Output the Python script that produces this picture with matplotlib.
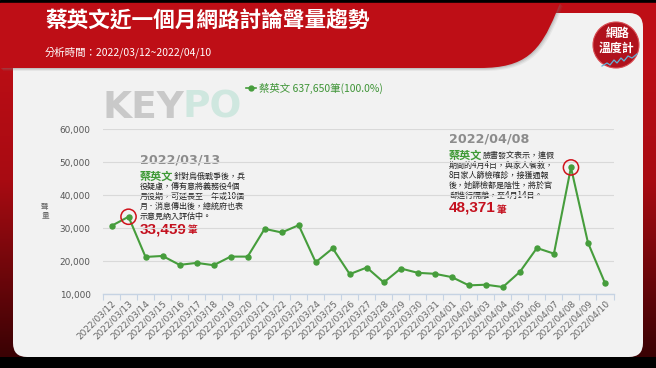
import numpy as np
import matplotlib
matplotlib.use("Agg")
import matplotlib.pyplot as plt
from matplotlib.patches import FancyBboxPatch, PathPatch, Circle, Rectangle
from matplotlib.path import Path
from matplotlib.colors import LinearSegmentedColormap

plt.rcParams['font.family'] = ['Noto Sans CJK TC', 'DejaVu Sans']

# ---------------- data ----------------
dates = ['2022/03/12', '2022/03/13', '2022/03/14', '2022/03/15', '2022/03/16',
         '2022/03/17', '2022/03/18', '2022/03/19', '2022/03/20', '2022/03/21',
         '2022/03/22', '2022/03/23', '2022/03/24', '2022/03/25', '2022/03/26',
         '2022/03/27', '2022/03/28', '2022/03/29', '2022/03/30', '2022/03/31',
         '2022/04/01', '2022/04/02', '2022/04/03', '2022/04/04', '2022/04/05',
         '2022/04/06', '2022/04/07', '2022/04/08', '2022/04/09', '2022/04/10']
values = [30700, 33459, 21300, 21600, 18900, 19500, 18800, 21400, 21400, 29800,
          28700, 30900, 19700, 23900, 16100, 18100, 13600, 17800, 16500, 16200,
          15200, 12700, 12900, 12200, 16800, 24000, 22300, 48371, 25600, 13400]
highlight_dates = ['2022/03/13', '2022/04/08']
y_ticks = [10000, 20000, 30000, 40000, 50000, 60000]
y_tick_labels = ['10,000', '20,000', '30,000', '40,000', '50,000', '60,000']

title = '蔡英文近一個月網路討論聲量趨勢'
subtitle = '分析時間：2022/03/12~2022/04/10'
legend_label = '蔡英文 637,650筆(100.0%)'
ann1_date = '2022/03/13'
ann1_lines = ['針對烏俄戰爭後，兵', '役疑慮，傳有意將義務役4個', '月役期，可延長至一年或10個',
              '月．消息傳出後，總統府也表', '示意見納入評估中。']
ann1_value = '33,459'
ann2_date = '2022/04/08'
ann2_lines = ['臉書發文表示，連假', '期間的4月4日，與家人餐敘，', '8日家人篩檢確診，接獲通報',
              '後，她篩檢都是陰性，將於官', '邸進行隔離，至4月14日。']
ann2_value = '48,371'

W, H = 656, 368
fig = plt.figure(figsize=(W / 100, H / 100), dpi=100)

# ---------------- background (pixel coords) ----------------
bg = fig.add_axes([0, 0, 1, 1])
bg.set_xlim(0, W)
bg.set_ylim(H, 0)
bg.axis('off')

RED = '#be0e16'
bg.add_patch(Rectangle((0, 0), W, H, color='#000000', zorder=0))
grad = np.linspace(0, 1, 256).reshape(-1, 1)
cm = LinearSegmentedColormap.from_list('rd', ['#c40f17', '#a80b12', '#3a0204'])
bg.imshow(grad, cmap=cm, extent=(0, W, 357, 3), aspect='auto', zorder=0.5)
bg.add_patch(Rectangle((0, 3), W, 66, color=RED, zorder=0.6))

panel = FancyBboxPatch((13, 13), 630, 344, boxstyle='round,pad=0,rounding_size=14',
                       facecolor='#f2f2f2', edgecolor='none', zorder=1)
bg.add_patch(panel)


def header_path(dx=0, dy=0):
    verts = [(0 + dx, 3 + dy), (560 + dx, 3 + dy), (556 + dx, 13 + dy),
             (540 + dx, 52 + dy), (525 + dx, 68 + dy), (480 + dx, 68 + dy),
             (0 + dx, 68 + dy), (0 + dx, 3 + dy)]
    codes = [Path.MOVETO, Path.LINETO, Path.LINETO, Path.CURVE4, Path.CURVE4,
             Path.CURVE4, Path.LINETO, Path.CLOSEPOLY]
    return Path(verts, codes)


# soft shadow near the curved edge
for k, a in [(3, 0.10), (2, 0.15), (1, 0.2)]:
    p = PathPatch(header_path(k, k), facecolor='#7a7a7a', edgecolor='none', alpha=a, zorder=1.1)
    p.set_clip_path(Rectangle((300, 0), 356, 80, transform=bg.transData))
    bg.add_patch(p)
bg.add_patch(PathPatch(header_path(), facecolor=RED, edgecolor='none', zorder=1.2))

bg.text(45, 21, title, color='white', fontsize=15.6, fontweight='bold', va='center', ha='left', zorder=3)
bg.text(45, 52, subtitle, color='white', fontsize=7.5, va='center', ha='left', zorder=3)

# logo circle
bg.add_patch(Circle((616, 45), 23, facecolor='#b0121d', edgecolor='#d84a50', lw=0.8, zorder=3))
bg.text(618, 33, '網路', color='white', fontsize=8.6, fontweight='bold', ha='center', va='center', zorder=4)
bg.text(616, 48, '溫度計', color='white', fontsize=8.6, fontweight='bold', ha='center', va='center', zorder=4)
wx = [602, 607, 610, 614, 617, 621, 624, 628, 632, 637]
wy = [66, 63, 65, 60, 63, 58, 61, 56, 58, 54]
bg.plot(wx, wy, color='#5fb3d9', lw=0.9, zorder=4)

# KEYPO watermark
bg.text(103, 108, 'KEY', color='#c9c9c9', fontsize=27, fontweight='bold', ha='left', va='center',
        family='DejaVu Sans', zorder=2)
bg.text(183, 108, 'PO', color='#cfe7df', fontsize=27, fontweight='bold', ha='left', va='center',
        family='DejaVu Sans', zorder=2)

bg.text(45, 211, '聲\n量', color='#666666', fontsize=5.5, ha='center', va='center', linespacing=1.0, zorder=3)

GREEN = '#469d3c'
bg.plot([246, 256], [88, 88], color=GREEN, lw=1.2, zorder=3)
bg.plot([251], [88], 'o', color=GREEN, ms=3.5, zorder=3)
bg.text(259, 88, legend_label, color='#3e9436', fontsize=7.5, ha='left', va='center', zorder=3)

# ---------------- chart ----------------
left, right, top, bottom = 103, 613.5, 129, 294.3
ax = fig.add_axes([left / W, 1 - bottom / H, (right - left) / W, (bottom - top) / H])
ax.set_facecolor('none')
x = np.arange(len(dates))
ax.set_xlim(-0.5, len(dates) - 0.5)
ax.set_ylim(y_ticks[0], y_ticks[-1])
ax.set_yticks(y_ticks)
ax.set_yticklabels(y_tick_labels, family='DejaVu Sans', fontsize=6.4, color='#555555')
ax.tick_params(axis='y', length=0, pad=9)
ax.grid(axis='y', color='#d9d9d9', lw=0.8)
ax.set_axisbelow(True)
for s in ['top', 'right', 'left']:
    ax.spines[s].set_visible(False)
ax.spines['bottom'].set_color('#c6d3e3')
ax.spines['bottom'].set_linewidth(1.0)
ax.set_xticks(x)
ax.set_xticklabels(dates, rotation=45, ha='right', va='top', rotation_mode='anchor',
                   family='DejaVu Sans', fontsize=6.4, color='#666666')
ax.tick_params(axis='x', length=0, pad=3)
ax.set_xticks(np.arange(-0.5, len(dates)), minor=True)
ax.tick_params(axis='x', which='minor', length=4, color='#c6d3e3', width=0.8)

ax.plot(x, values, color=GREEN, lw=1.5, marker='o', ms=3.6, zorder=3, clip_on=False)
hi = [dates.index(d) for d in highlight_dates]
ax.scatter(hi, [values[i] for i in hi], s=120, facecolors='none', edgecolors='#d0121b',
           linewidths=1.1, zorder=4, clip_on=False)

# ---------------- annotations (pixel coords) ----------------
renderer = fig.canvas.get_renderer()


def annotation(x0, y_date, date, lines, val):
    bg.text(x0, y_date, date, color='#8c8c8c', fontsize=9.2, fontweight='bold',
            family='DejaVu Sans', ha='left', va='center', zorder=5)
    y = y_date + 16
    bg.text(x0, y, '蔡英文', color='#3f9a36', fontsize=8, fontweight='bold', ha='left', va='center', zorder=5)
    bg.text(x0 + 34, y + 0.5, lines[0], color='#222222', fontsize=5.8, fontweight='medium',
            ha='left', va='center', zorder=5)
    for k, ln in enumerate(lines[1:]):
        bg.text(x0, y + 10.0 * (k + 1), ln, color='#222222', fontsize=5.8, fontweight='medium',
                ha='left', va='center', zorder=5)
    yv = y + 10.0 * len(lines) + 3
    tv = bg.text(x0, yv, val, color='#c4101e', fontsize=11, fontweight='bold', family='Liberation Sans',
                 ha='left', va='center', zorder=5)
    ext = tv.get_window_extent(renderer=renderer)
    xe = ext.x1  # display pixels == figure pixels at dpi 100
    bg.text(xe + 1, yv + 1.5, '筆', color='#c4101e', fontsize=7, fontweight='bold',
            ha='left', va='center', zorder=5)


annotation(140, 160, ann1_date, ann1_lines, ann1_value)
annotation(449, 139, ann2_date, ann2_lines, ann2_value)

fig.savefig('out.png', dpi=100)
